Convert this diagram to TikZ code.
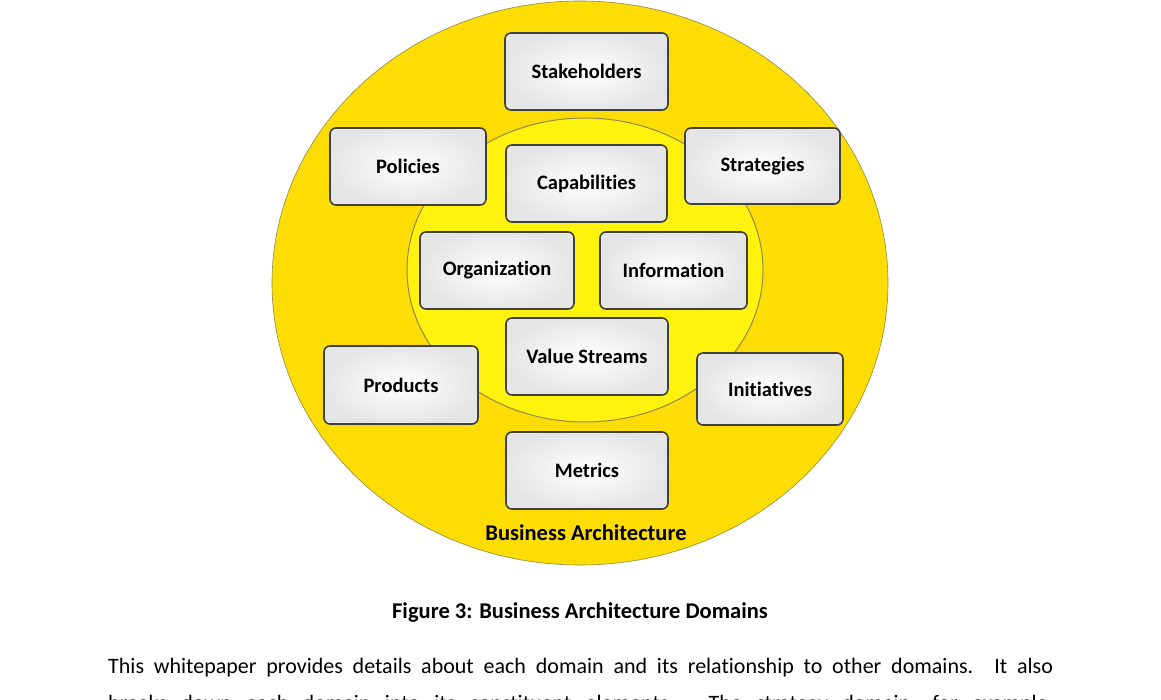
\documentclass[tikz,border=0pt]{standalone}
\usepackage{fontspec}
\setmainfont{Carlito}[Ligatures={NoCommon}]
\begin{document}
\begin{tikzpicture}[x=1pt,y=-1pt,
  dom/.style={draw=black!75,line width=1.6pt,rounded corners=6pt,fill=white,
    inner color=white,outer color=black!10},
  ]
\clip (0,0) rectangle (1161,700);
\fill[white] (0,0) rectangle (1161,700);
\fill[yellow!80!orange,draw=yellow!50!black,line width=0.6pt] (580,283) ellipse [x radius=308,y radius=282];
\fill[yellow!95!white,draw=yellow!50!black,line width=1pt] (585,270) ellipse [x radius=178,y radius=152];
\def\bx#1#2#3#4#5#6{\path[dom] (#2,#3) rectangle (#4,#5); \node (#1) at ({(#2+#4)/2},{(#3+#5)/2}) {\bfseries\fontsize{20.5}{24}\selectfont #6};}
\bx{stk}{505}{33}{668}{110}{Stakeholders}
\bx{pol}{330}{128}{486}{205}{Policies}
\bx{cap}{506}{145}{667}{222}{Capabilities}
\bx{str}{685}{128}{840}{204}{Strategies}
\bx{org}{420}{232}{574}{309}{Organization}
\bx{inf}{600}{232}{747}{309}{Information}
\bx{vs}{506}{318}{668}{395}{Value Streams}
\bx{prd}{324}{346}{478}{424}{Products}
\bx{ini}{697}{353}{843}{425}{Initiatives}
\bx{met}{506}{432}{668}{509}{Metrics}
\node (ba) at (586,533) {\bfseries\fontsize{22.5}{26}\selectfont Business Architecture};
\node (cap3) at (580,613) {\bfseries\fontsize{22.5}{26}\selectfont Figure 3: Business Architecture Domains};
\node[anchor=base west,inner sep=0,text width=945pt,align=justify,font=\fontsize{22}{37}\selectfont] (para) at (108,673)
 {This whitepaper provides details about each domain and its relationship to other domains. It also\linebreak breaks down each domain into its constituent elements. The strategy domain, for example,\linebreak contains};
\end{tikzpicture}
\end{document}
